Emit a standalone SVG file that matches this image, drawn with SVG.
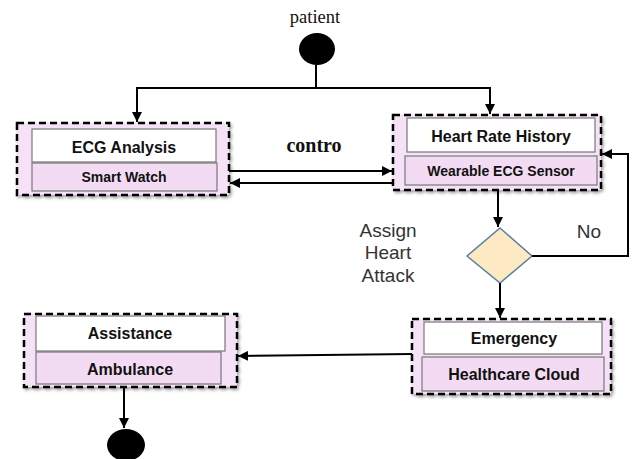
<svg xmlns="http://www.w3.org/2000/svg" width="633" height="459" viewBox="0 0 633 459">
<defs>
<marker id="ah" viewBox="0 0 10 10" refX="10" refY="5" markerWidth="10" markerHeight="10" markerUnits="userSpaceOnUse" orient="auto">
<path d="M0,0 L10,5 L0,10 z" fill="#000"/>
</marker>
<filter id="sh" x="-5%" y="-5%" width="115%" height="120%">
<feDropShadow dx="1.5" dy="2" stdDeviation="1.5" flood-color="#000" flood-opacity="0.35"/>
</filter>
</defs>
<style>
.outer{fill:#f6e2f6;stroke:#000;stroke-width:2.5;stroke-dasharray:7,4;filter:url(#sh)}
.top{fill:#fff;stroke:#777;stroke-width:1.2}
.bot{fill:#f3dcf3;stroke:#777;stroke-width:1.2}
.t1{font-family:"Liberation Sans",Arial,sans-serif;font-weight:bold;font-size:16px;fill:#111;text-anchor:middle}
.t2{font-family:"Liberation Sans",Arial,sans-serif;font-weight:bold;font-size:14px;fill:#111;text-anchor:middle}
.lab{font-family:"Liberation Sans",Arial,sans-serif;font-size:19px;fill:#333;text-anchor:middle}
.con{fill:none;stroke:#000;stroke-width:2}
</style>
<rect width="633" height="459" fill="#fff"/>

<g id="start">
<text x="315" y="23" font-family="Liberation Serif,serif" font-size="18.5" text-anchor="middle" fill="#111">patient</text>
<ellipse cx="317" cy="49" rx="18" ry="16" fill="#000"/>
</g>

<g id="ecg">
<rect class="outer" x="17" y="123" width="212" height="72"/>
<rect class="top" x="32" y="129" width="184" height="33"/>
<rect class="bot" x="32" y="163" width="185" height="28"/>
<text class="t1" x="124" y="153">ECG Analysis</text>
<text class="t2" x="124" y="182">Smart Watch</text>
</g>

<g id="hrh">
<rect class="outer" x="393" y="115" width="208" height="75"/>
<rect class="top" x="407" y="118" width="188" height="34"/>
<rect class="bot" x="405" y="156" width="192" height="29"/>
<text class="t1" x="501" y="142">Heart Rate History</text>
<text class="t2" x="501" y="176">Wearable ECG Sensor</text>
</g>

<g id="decision">
<polygon points="500,228 532,256 500,283 467,256" fill="#fde9c2" stroke="#5a7fa6" stroke-width="1.5"/>
</g>

<g id="emergency">
<rect class="outer" x="412" y="319" width="199" height="75"/>
<rect class="top" x="424" y="322" width="178" height="32"/>
<rect class="bot" x="422" y="357" width="182" height="34"/>
<text class="t1" x="514" y="344">Emergency</text>
<text class="t1" x="514" y="380">Healthcare Cloud</text>
</g>

<g id="assistance">
<rect class="outer" x="24" y="314" width="213" height="73"/>
<rect class="top" x="36" y="316" width="189" height="35"/>
<rect class="bot" x="36" y="352" width="185" height="32"/>
<text class="t1" x="130" y="339">Assistance</text>
<text class="t1" x="130" y="375">Ambulance</text>
</g>

<g id="end">
<ellipse cx="126" cy="445" rx="19" ry="16" fill="#000"/>
</g>

<g id="connectors">
<path class="con" d="M316,65 V88"/>
<path class="con" d="M316,88 H137 V122" marker-end="url(#ah)"/>
<path class="con" d="M316,88 H490 V114" marker-end="url(#ah)"/>
<path class="con" d="M229,171 H392" marker-end="url(#ah)"/>
<path class="con" d="M393,183 H230" marker-end="url(#ah)"/>
<path class="con" d="M498,190 V227" marker-end="url(#ah)"/>
<path class="con" d="M532,256 H628 V154 H602" marker-end="url(#ah)"/>
<path class="con" d="M500,283 V318" marker-end="url(#ah)"/>
<path class="con" d="M412,354 L238,356" marker-end="url(#ah)"/>
<path class="con" d="M124,387 V428" marker-end="url(#ah)"/>
<text x="314" y="152" font-family="Liberation Serif,serif" font-weight="bold" font-size="20" text-anchor="middle" fill="#111">contro</text>
<text class="lab" x="589" y="238">No</text>
<text class="lab" x="388" y="237">Assign</text>
<text class="lab" x="388" y="259">Heart</text>
<text class="lab" x="388" y="282">Attack</text>
</g>
</svg>
